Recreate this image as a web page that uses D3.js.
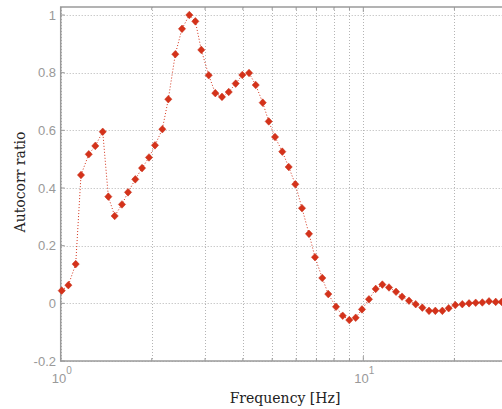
<!DOCTYPE html>
<html><head><meta charset="utf-8">
<script src="https://cdn.jsdelivr.net/npm/d3@7"></script>
<style>html,body{margin:0;padding:0;background:#fff;overflow:hidden}</style>
</head><body>
<svg id="c" width="502" height="409"></svg>
<script>
const freqs = [1.008,1.060,1.121,1.167,1.238,1.301,1.377,1.437,1.508,1.594,1.669,1.764,1.857,1.958,2.049,2.167,2.268,2.392,2.517,2.661,2.786,2.915,3.084,3.243,3.412,3.592,3.787,3.983,4.192,4.411,4.652,4.869,5.108,5.399,5.668,5.961,6.272,6.615,6.924,7.318,7.661,8.125,8.550,8.989,9.437,9.901,10.44,10.99,11.56,12.16,12.83,13.43,14.16,14.90,15.67,16.49,17.30,18.25,19.15,20.14,21.24,22.36,23.52,24.74,26.03,27.39,28.67];
const ratios = [0.044,0.063,0.136,0.445,0.517,0.546,0.595,0.370,0.303,0.343,0.385,0.430,0.469,0.506,0.548,0.604,0.708,0.864,0.952,1.000,0.978,0.879,0.791,0.729,0.716,0.733,0.762,0.792,0.799,0.757,0.696,0.631,0.577,0.526,0.473,0.413,0.330,0.241,0.160,0.088,0.032,-0.012,-0.043,-0.058,-0.050,-0.021,0.014,0.050,0.065,0.055,0.040,0.023,0.009,-0.003,-0.015,-0.026,-0.026,-0.026,-0.017,-0.006,-0.003,0.000,0.002,0.003,0.007,0.005,0.005];
const yTicks = [-0.2,0,0.2,0.4,0.6,0.8,1];
const yTickLabels = ["-0.2","0","0.2","0.4","0.6","0.8","1"];
const xMajor = [1,10];
const xMajorLabels = [["10","0"],["10","1"]];
const xMinor = [2,3,4,5,6,7,8,9,20,30];

const svg = d3.select("#c");
const pLeft = 60.7, pTop = 7, pBottom = 361;
const x = d3.scaleLog().domain([1,30]).range([pLeft, pLeft + 302.6*Math.log10(30)]);
const y = d3.scaleLinear().domain([-0.2,1]).range([pBottom, 15]);
const pRight = x(30);

const grid = svg.append("g").attr("stroke","#b4b4b4").attr("stroke-width",1).attr("stroke-dasharray","1,2");
xMajor.concat(xMinor).forEach(v=>{
  grid.append("line").attr("x1",Math.round(x(v))+0.5).attr("x2",Math.round(x(v))+0.5).attr("y1",pTop).attr("y2",pBottom);
});
yTicks.forEach(v=>{
  grid.append("line").attr("x1",pLeft).attr("x2",pRight).attr("y1",Math.round(y(v))+0.5).attr("y2",Math.round(y(v))+0.5);
});

// frame
const frame = svg.append("g").attr("stroke","#9a9a9a").attr("stroke-width",1.5).attr("fill","none");
frame.append("rect").attr("x",pLeft).attr("y",pTop).attr("width",pRight-pLeft).attr("height",pBottom-pTop);
// inner ticks
const tk = svg.append("g").attr("stroke","#9a9a9a").attr("stroke-width",1);
yTicks.forEach(v=>{ tk.append("line").attr("x1",pLeft).attr("x2",pLeft+4).attr("y1",y(v)).attr("y2",y(v)); });
xMajor.forEach(v=>{
  tk.append("line").attr("x1",x(v)).attr("x2",x(v)).attr("y1",pBottom).attr("y2",pBottom-5);
  tk.append("line").attr("x1",x(v)).attr("x2",x(v)).attr("y1",pTop).attr("y2",pTop+5);
});
xMinor.forEach(v=>{
  tk.append("line").attr("x1",x(v)).attr("x2",x(v)).attr("y1",pBottom).attr("y2",pBottom-3);
  tk.append("line").attr("x1",x(v)).attr("x2",x(v)).attr("y1",pTop).attr("y2",pTop+3);
});

// y tick labels
const yl = svg.append("g").attr("font-family","Liberation Sans, Arial, sans-serif").attr("font-size",13).attr("fill","#999");
yTicks.forEach((v,i)=>{
  yl.append("text").attr("x",56).attr("y",y(v)).attr("dy","0.36em").attr("text-anchor","end").text(yTickLabels[i]);
});
// x tick labels
xMajor.forEach((v,i)=>{
  const t = yl.append("text").attr("x",x(v)-9).attr("y",383);
  t.append("tspan").text(xMajorLabels[i][0]);
  t.append("tspan").attr("font-size",10).attr("dy",-9).text(xMajorLabels[i][1]);
});

// axis labels
svg.append("text").attr("x",285).attr("y",403).attr("text-anchor","middle")
  .attr("font-family","DejaVu Serif, serif").attr("font-size",14).attr("fill","#222").text("Frequency [Hz]");
svg.append("text").attr("transform","translate(25,182) rotate(-90)").attr("text-anchor","middle")
  .attr("font-family","DejaVu Serif, serif").attr("font-size",14).attr("fill","#222").text("Autocorr ratio");

const data = freqs.map((f,i)=>({f, r: ratios[i]}));
svg.append("path").datum(data)
  .attr("d", d3.line().x(d=>x(d.f)).y(d=>y(d.r)))
  .attr("fill","none").attr("stroke","#d4321a").attr("stroke-width",1).attr("stroke-dasharray","1,2");
svg.append("g").selectAll("path").data(data).join("path")
  .attr("transform", d=>`translate(${x(d.f)},${y(d.r)})`)
  .attr("d","M0,-3.8L3.6,0L0,3.8L-3.6,0Z")
  .attr("fill","#d4321a").attr("stroke","#c62a12").attr("stroke-width",0.5);
</script>
</body></html>
